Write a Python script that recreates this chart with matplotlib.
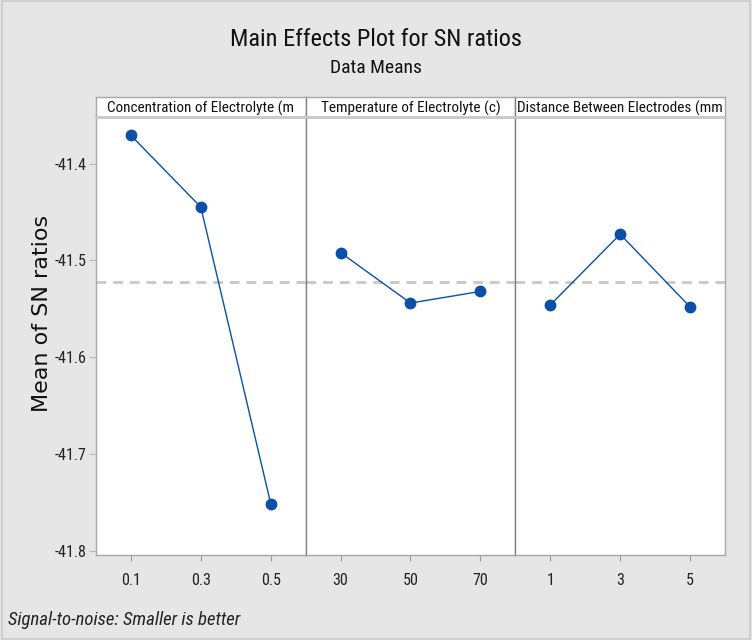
import matplotlib.pyplot as plt
from matplotlib import font_manager
from matplotlib.font_manager import FontProperties
from matplotlib.patches import Rectangle

# Factor names and their levels
factors = ["Concentration of Electrolyte (m", "Temperature of Electrolyte (c)", "Distance Between Electrodes (mm"]
levels = [["0.1", "0.3", "0.5"], ["30", "50", "70"], ["1", "3", "5"]]

# Mean SN ratio at each level
sn_conc = [-41.371, -41.445, -41.751]
sn_temp = [-41.492, -41.544, -41.532]
sn_dist = [-41.546, -41.473, -41.548]
series = [sn_conc, sn_temp, sn_dist]

grand_mean = -41.522
y_ticks = [-41.4, -41.5, -41.6, -41.7, -41.8]


def pick_font(italic=False):
    """Prefer a condensed sans face; fall back to Open Sans."""
    cands = []
    for f in font_manager.fontManager.ttflist:
        fn = f.fname.lower()
        is_it = f.style in ("italic", "oblique")
        if is_it != italic or f.weight not in (400, "normal", "regular"):
            continue
        narrowish = ("narrow" in fn or "condensed" in fn
                     or str(f.stretch) in ("condensed", "semi-condensed"))
        if narrowish:
            score = 0
            if "liberation" in fn:
                score = 3
            elif "opensans" in fn or "open sans" in fn:
                score = 2
            elif "roboto" in fn:
                score = 2
            elif "dejavu" in fn:
                score = 1
            cands.append((score, f.fname))
    if cands:
        cands.sort(reverse=True)
        return cands[0][1], True
    return None, False


reg_path, reg_narrow = pick_font(False)
it_path, it_narrow = pick_font(True)


def fp(size, italic=False):
    path = it_path if italic else reg_path
    if path:
        return FontProperties(fname=path, size=size)
    return FontProperties(family="Open Sans", size=size, style="italic" if italic else "normal")


W, H = 752, 640
fig = plt.figure(figsize=(W / 100, H / 100), dpi=100, facecolor="#e6e6e6")

left, right = 96, 725
top_plot, bottom_plot = 117, 555
strip_top = 97
pw = (right - left) / 3

blue = "#0a4fa8"
for i in range(3):
    x0 = left + i * pw
    ax = fig.add_axes([x0 / W, 1 - bottom_plot / H, pw / W, (bottom_plot - top_plot) / H])
    ax.set_facecolor("white")
    xs = [1, 2, 3]
    ax.axhline(grand_mean, color="#c8c8c8", lw=2.0, ls=(0, (3.5, 2.5)), zorder=1)
    ax.plot(xs, series[i], color=blue, lw=1.0, zorder=2)
    ax.plot(xs, series[i], "o", color=blue, ms=7.5, zorder=3)
    ax.set_xlim(0.5, 3.5)
    ax.set_ylim(-41.804, -41.352)
    ax.set_xticks(xs)
    ax.set_xticklabels(levels[i], fontproperties=fp(11.5), color="#222222")
    ax.tick_params(axis="x", length=4, color="#999999", pad=9)
    if i == 0:
        ax.set_yticks(y_ticks)
        ax.set_yticklabels([f"{v:.1f}" for v in y_ticks], fontproperties=fp(11.5), color="#222222")
        ax.tick_params(axis="y", length=5, color="#bbbbbb", pad=1.5)
    else:
        ax.set_yticks([])
    for s in ax.spines.values():
        s.set_color("#a8a8a8")
        s.set_linewidth(1.0)
    if i > 0:
        ax.spines["left"].set_color("#808080")

    # strip header for each factor
    sax = fig.add_axes([x0 / W, 1 - top_plot / H, pw / W, (top_plot - strip_top) / H])
    sax.set_facecolor("white")
    sax.set_xticks([])
    sax.set_yticks([])
    for s in sax.spines.values():
        s.set_color("#a8a8a8")
        s.set_linewidth(1.0)
    sax.spines["bottom"].set_linewidth(2.0)
    sax.spines["bottom"].set_color("#c8c8c8")
    if i > 0:
        sax.spines["left"].set_color("#808080")
    sax.text(0.5, 0.42, factors[i], ha="center", va="center", fontproperties=fp(11),
             color="#111111", transform=sax.transAxes)

fig.text(0.5, 1 - 40 / H, "Main Effects Plot for SN ratios", ha="center", va="center",
         fontproperties=fp(17.5), color="#111111")
fig.text(0.5, 1 - 68 / H, "Data Means", ha="center", va="center",
         fontproperties=fp(14), color="#111111")
fig.text(42 / W, 1 - 313 / H, "Mean of SN ratios", ha="center", va="center",
         rotation=90, family="DejaVu Sans", fontsize=16, color="#111111")
fig.text(8 / W, 1 - 620 / H, "Signal-to-noise: Smaller is better", ha="left", va="center",
         fontproperties=fp(13.5, italic=True), color="#222222")

# thin outer frame of the figure
fig.patches.append(Rectangle((0.002, 0.002), 0.996, 0.996, transform=fig.transFigure,
                             fill=False, edgecolor="#cfcfcf", lw=1.5))

fig.savefig("out.png", dpi=100, facecolor=fig.get_facecolor())
